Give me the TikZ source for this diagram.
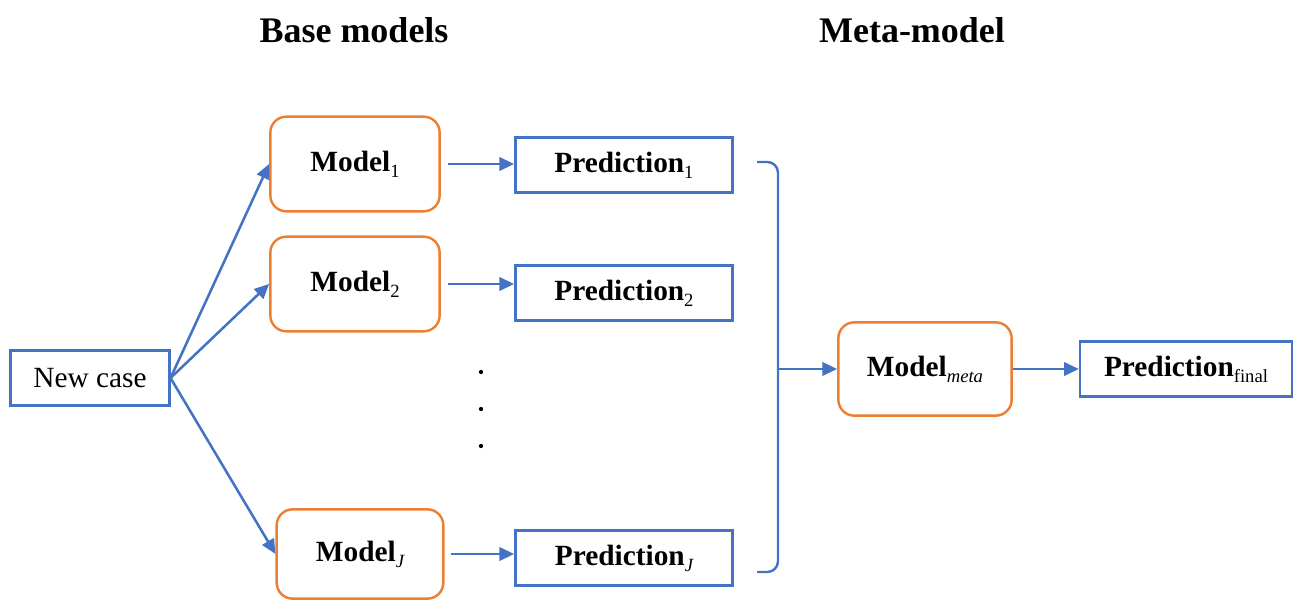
\documentclass[tikz,border=0pt]{standalone}
\usepackage{fontspec}
\setmainfont{Liberation Serif}
\usepackage{tikz}
\usetikzlibrary{arrows.meta}

\definecolor{lineblue}{HTML}{4472C4}
\definecolor{boxorange}{HTML}{ED7D31}
\newcommand{\lowsub}[1]{\raisebox{-0.45ex}{\rmfamily\mdseries\fontsize{14}{16}\selectfont #1}}

\begin{document}
\begin{tikzpicture}[x=0.75pt, y=-0.75pt,
        every node/.style={font=\rmfamily\fontsize{22}{26}\selectfont},
        modelbox/.style={draw=boxorange, line width=1.8pt, rounded corners=12pt, minimum width=127pt, minimum height=71pt},
        predbox/.style={draw=lineblue, line width=1.8pt, minimum width=163pt, minimum height=41pt},
        link/.style={draw=lineblue, line width=1.9pt, -{Triangle[length=11pt, width=10pt]}}]
        \useasboundingbox (0,0) rectangle (1296,602);

        % Titles
        \node[font=\rmfamily\fontsize{27}{32}\selectfont\bfseries] (titlebase) at (354, 30) {Base models};
        \node[font=\rmfamily\fontsize{27}{32}\selectfont\bfseries] (titlemeta) at (912, 30) {Meta-model};

        % Input
        \node[draw=lineblue, line width=1.8pt, minimum width=119pt, minimum height=41pt] (newcase) at (90, 378) {New case};

        % Base models
        \node[modelbox] (model1) at (355, 164) {\textbf{Model}\lowsub{1}};
        \node[modelbox] (model2) at (355, 284) {\textbf{Model}\lowsub{2}};
        \node[modelbox, minimum width=125pt, minimum height=67pt] (modelJ) at (360, 554) {\textbf{Model}\lowsub{\itshape J}};

        % Predictions
        \node[predbox] (pred1) at (624, 165) {\textbf{Prediction}\lowsub{1}};
        \node[predbox] (pred2) at (624, 293) {\textbf{Prediction}\lowsub{2}};
        \node[predbox] (predJ) at (624, 558) {\textbf{Prediction}\lowsub{\itshape J}};

        % Dots
        \foreach \y [count=\i] in {372, 409, 446}
            \fill (481, \y) circle (1.6pt) coordinate (dot\i);

        % Meta-model and final prediction
        \node[modelbox, minimum width=130pt, minimum height=70pt] (modelmeta) at (925, 369) {\textbf{Model}\lowsub{\itshape meta}};
        \node[predbox, minimum width=159pt] (predfinal) at (1186, 369) {\textbf{Prediction}\lowsub{final}};

        % New case to base models
        \draw[link] (newcase.east) -- (model1.west);
        \draw[link] (newcase.east) -- (model2.west);
        \draw[link] (newcase.east) -- (modelJ.west);

        % Base models to predictions
        \draw[link, shorten <=5pt] (model1.east) -- (pred1.west |- model1.east);
        \draw[link, shorten <=5pt] (model2.east) -- (pred2.west |- model2.east);
        \draw[link, shorten <=5pt] (modelJ.east) -- (predJ.west |- modelJ.east);

        % Bracket collecting the predictions
        \coordinate (brtop) at (757, 162);
        \coordinate (brbot) at (757, 572);
        \coordinate (brmid) at (778, 369);
        \draw[lineblue, line width=1.8pt, rounded corners=8pt] (brtop) -- (778, 162) -- (778, 572) -- (brbot);
        \draw[link] (brmid) -- (modelmeta.west);

        % Meta-model to final prediction
        \draw[link] (modelmeta.east) -- (predfinal.west);
\end{tikzpicture}
\end{document}
